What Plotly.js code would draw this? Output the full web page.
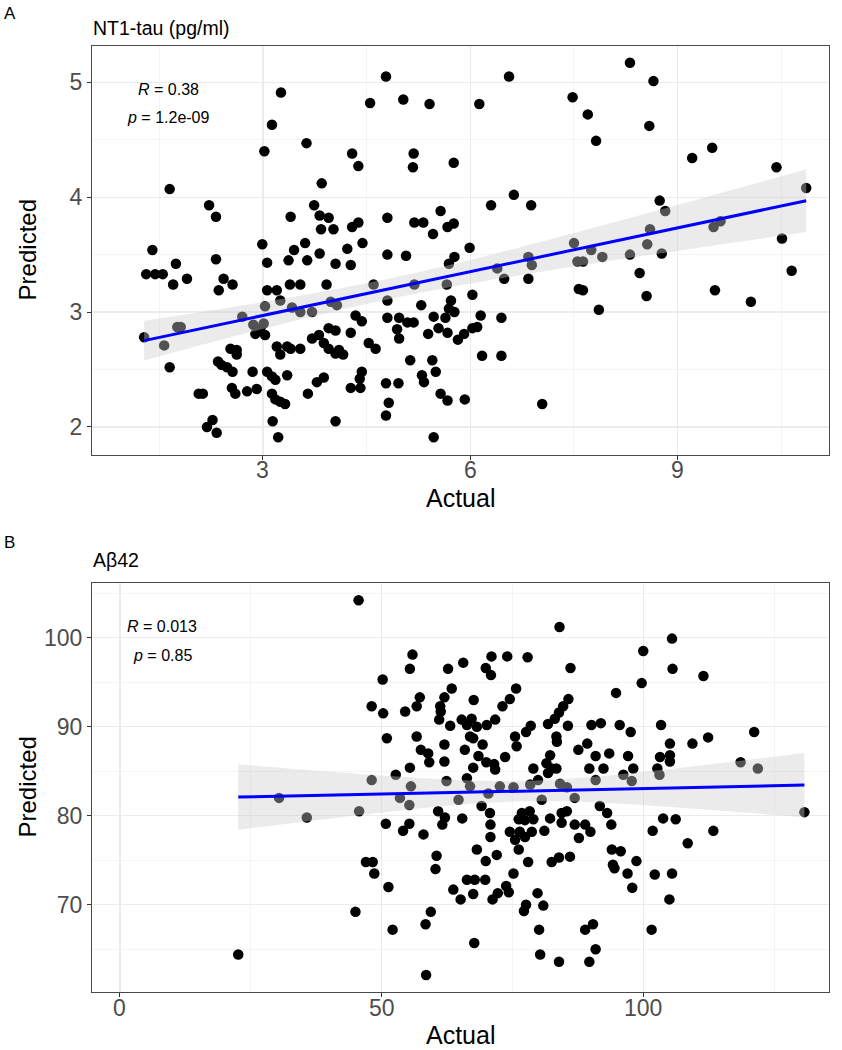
<!DOCTYPE html>
<html><head><meta charset="utf-8">
<script src="https://cdn.plot.ly/plotly-3.0.1.min.js"></script>
<style>html,body{margin:0;padding:0;background:#fff}#chart{width:842px;height:1050px}</style>
</head><body><div id="chart"></div>
<script>
const W = 842, H = 1050;

// Panel A: NT1-tau (pg/ml)
const ntauActual = [3.26,3.13,3.63,3.02,1.65,3.85,2.22,2.32,3.40,3.74,3.82,3.95,3.84,4.02,2.99,3.61,1.40,3.45,
 2.32,3.06,1.74,1.31,1.44,1.55,1.70,1.90,2.43,2.56,2.36,3.37,3.64,3.82,4.05,3.39,3.54,3.92,3.06,3.20,3.25,3.03,3.42,3.54,3.71,3.98,4.07,2.70,2.86,2.96,3.01,1.76,1.81,1.28,1.57,2.89,3.03,1.65,2.53,2.62,2.35,2.40,2.48,2.62,2.56,2.85,3.06,3.13,3.18,3.35,3.20,3.25,3.40,3.54,3.35,3.71,3.81,3.88,3.95,4.05,3.95,4.05,3.78,3.88,3.65,2.55,2.60,2.77,2.91,2.07,2.13,3.13,3.18,3.32,3.25,3.14,3.22,2.27,2.19,2.33,4.05,
 4.78,6.56,7.48,4.55,5.03,5.41,6.13,4.29,4.38,5.18,5.17,5.76,6.30,6.63,6.88,4.80,5.19,5.32,5.57,5.46,5.67,5.76,4.29,4.38,4.44,4.22,5.99,7.50,
 4.27,4.80,5.07,5.69,5.77,4.60,5.19,5.66,6.39,6.49,6.84,6.89,6.84,7.55,7.57,6.03,5.72,5.69,5.77,5.64,5.29,4.80,4.34,4.43,4.27,4.80,4.97,5.09,5.18,4.94,4.97,5.39,5.47,5.54,5.67,5.82,5.91,6.03,6.10,6.15,6.45,6.17,6.45,4.10,4.16,4.53,4.63,5.13,5.45,5.50,4.43,4.40,4.27,4.41,4.78,4.96,5.30,5.33,5.57,5.67,5.92,4.82,4.78,5.47,7.04,
 8.31,8.65,7.70,8.59,7.82,9.21,9.50,10.43,10.86,8.74,8.82,8.60,8.56,9.52,9.62,10.51,
 7.75,7.91,7.63,8.31,8.77,8.45,7.63,8.55,7.86,9.54,10.06,10.65];
const ntauPredicted = [4.91,4.63,4.47,4.40,4.07,4.12,3.93,3.83,3.83,3.93,3.84,3.82,3.72,3.72,3.59,3.60,3.54,3.54,
 3.46,3.43,3.42,3.33,3.33,3.33,3.24,3.29,3.29,3.24,3.19,3.45,3.45,3.51,3.42,3.24,3.24,3.24,3.19,3.19,3.10,3.05,3.04,3.00,3.00,3.09,3.06,2.96,2.89,2.86,2.90,2.87,2.87,2.78,2.71,2.81,2.80,2.52,2.68,2.67,2.57,2.54,2.52,2.63,2.48,2.48,2.48,2.44,2.41,2.45,2.70,2.63,2.68,2.68,2.70,2.77,2.80,2.73,2.86,2.84,2.68,2.64,2.39,2.43,2.29,2.34,2.29,2.31,2.33,2.29,2.29,2.29,2.24,2.20,2.22,2.05,1.91,2.06,2.00,1.95,2.05,
 5.05,5.05,4.87,4.82,4.85,4.81,4.81,4.38,4.27,4.38,4.26,4.30,3.93,4.02,3.93,3.82,3.78,3.78,3.88,3.68,3.74,3.77,3.74,3.78,3.60,3.55,3.56,3.60,
 3.41,3.50,3.49,3.42,3.48,3.24,3.24,3.24,3.38,3.29,3.48,3.41,3.29,3.44,3.20,3.15,3.10,3.03,3.00,2.95,3.06,3.10,2.97,2.92,2.82,2.95,2.95,2.91,2.91,2.85,2.77,2.81,2.96,2.86,2.82,2.76,2.81,2.86,2.87,2.97,2.95,2.62,2.62,2.67,2.63,2.73,2.68,2.58,2.58,2.48,2.48,2.42,2.34,2.34,2.38,2.38,2.45,2.39,2.29,2.23,2.24,2.21,2.10,1.91,2.20,
 5.17,5.01,4.72,4.62,4.49,4.34,4.43,4.26,4.08,3.97,3.88,3.72,3.59,3.74,3.79,3.64,
 3.54,3.48,3.44,3.50,3.51,3.34,3.19,3.14,3.02,3.19,3.09,3.36];

// Panel B: Abeta42
const abActual = [45.6,55.9,55.4,50.2,62.7,65.6,71.0,74.0,69.9,70.9,63.4,62.0,61.2,61.3,61.0,57.3,56.7,48.1,50.3,54.5,67.6,75.7,74.5,73.1,65.3,67.2,68.2,70.1,66.3,71.7,63.1,51.0,56.7,66.9,67.5,62.0,65.9,69.3,75.5,75.8,57.5,58.9,59.1,62.0,68.5,70.0,71.5,71.7,73.6,67.5,55.4,52.7,48.1,55.6,62.4,66.3,66.9,72.6,75.2,70.4,30.4,53.5,64.7,
 35.7,45.7,55.3,50.8,54.1,55.3,58.0,60.8,62.1,61.6,65.4,69.1,70.7,70.8,70.8,74.5,75.5,76.2,76.2,47.0,48.3,48.6,51.3,60.5,60.3,68.2,69.9,72.0,66.3,67.8,69.8,63.7,65.1,67.5,71.2,72.2,73.8,74.3,75.2,45.0,52.1,59.4,58.4,67.7,22.6,58.5,
 84.0,105.5,100.0,105.6,111.5,99.7,77.9,86.1,94.8,85.7,84.7,83.9,83.1,81.8,78.5,77.6,85.6,90.1,91.9,95.5,97.6,103.4,121.2,112.4,109.4,105.1,83.4,83.5,87.6,89.3,82.2,81.5,82.5,83.4,79.0,90.9,93.5,89.7,92.4,97.1,98.1,103.2,102.7,105.1,105.1,118.6,121.9,81.8,79.9,78.4,84.1,85.4,90.9,96.2,97.8,103.1,80.6,86.9,
 91.7,93.1,93.9,130.8,103.8,106.2,101.8,113.4,108.5,76.8,78.3,79.0,77.4,82.2,84.4,85.4,84.4,86.9,88.9,89.9,87.7,76.4,78.7,81.1,77.4,78.0,82.5,83.9,86.0,94.0,95.7,94.2,94.5,98.7,97.0,97.9,102.2,105.5,105.0,79.8,77.6,77.2,80.9,80.1,88.9,90.4,101.6,80.3,83.9,89.7,90.9];
const abPredicted = [104.2,98.1,96.5,95.3,96.5,97.2,97.9,97.9,96.6,95.8,94.3,93.3,92.3,91.7,90.8,93.3,92.3,92.3,91.5,91.7,93.0,94.3,93.1,92.3,90.8,90.9,90.0,90.2,90.2,90.8,90.1,88.7,88.9,88.9,88.7,88.0,87.4,88.0,88.9,87.8,87.4,87.0,86.0,86.1,86.7,86.0,85.8,85.2,86.6,85.4,85.4,84.6,84.0,83.3,83.9,84.2,83.3,83.3,83.2,82.5,82.0,82.0,81.8,
 79.8,80.5,81.2,79.1,78.3,79.1,77.9,80.5,79.8,79.0,79.7,81.1,80.3,79.0,77.6,78.2,77.3,76.2,79.6,74.8,74.8,73.5,72.0,75.5,74.0,76.2,74.9,75.6,72.8,72.8,72.8,71.7,70.6,71.2,70.6,71.3,72.1,71.4,73.5,69.2,67.2,69.2,67.8,65.7,64.4,62.1,
 101.2,99.9,98.5,96.5,95.7,94.9,97.8,96.6,93.8,93.1,92.3,91.6,90.9,90.3,90.1,89.4,90.1,90.2,90.4,90.2,89.4,90.2,89.4,88.8,88.1,88.1,88.9,88.3,87.4,88.1,86.8,85.9,85.3,85.3,85.3,86.7,87.0,85.3,85.3,86.7,85.3,86.6,85.3,86.8,86.1,86.0,85.3,84.8,84.0,83.5,83.6,83.2,84.0,84.6,83.9,84.6,81.8,82.0,
 81.1,80.3,79.0,80.4,79.7,79.6,78.3,78.3,76.9,80.3,80.5,79.6,79.5,79.7,80.3,80.5,79.2,79.0,79.0,78.2,77.5,78.2,78.2,78.3,77.6,74.8,74.8,75.3,75.4,76.2,76.0,74.5,74.1,74.9,73.5,71.9,73.4,73.5,70.6,71.3,70.0,69.3,69.9,67.2,67.2,67.8,67.2,64.4,63.6,63.6,65.0];

const ntauXTicks = [3, 6, 9];
const abXTicks = [0, 50, 100];
const panelTitles = ['NT1-tau (pg/ml)', 'A\u03b242'];
const panelTags = ['A', 'B'];
const statR = ['0.38', '0.013'];
const statP = ['1.2e-09', '0.85'];

const FONT = 'Liberation Sans, Arial, Helvetica, sans-serif';

// Linear fit with 95% confidence band (like geom_smooth(method = "lm"))
function lmBand(xs, ys) {
  const n = xs.length;
  const mx = xs.reduce((a, b) => a + b, 0) / n;
  const my = ys.reduce((a, b) => a + b, 0) / n;
  let sxx = 0, sxy = 0;
  for (let i = 0; i < n; i++) { sxx += (xs[i] - mx) ** 2; sxy += (xs[i] - mx) * (ys[i] - my); }
  const b = sxy / sxx, a = my - b * mx;
  let sse = 0;
  for (let i = 0; i < n; i++) sse += (ys[i] - a - b * xs[i]) ** 2;
  const s = Math.sqrt(sse / (n - 2));
  const t = 1.971;
  const xmin = Math.min(...xs), xmax = Math.max(...xs);
  const gx = [], fit = [], lo = [], hi = [];
  for (let k = 0; k <= 80; k++) {
    const x = xmin + (xmax - xmin) * k / 80;
    const f = a + b * x;
    const se = s * Math.sqrt(1 / n + (x - mx) ** 2 / sxx);
    gx.push(x); fit.push(f); lo.push(f - t * se); hi.push(f + t * se);
  }
  return { gx, fit, lo, hi };
}

function panelTraces(xs, ys, xa, ya) {
  const f = lmBand(xs, ys);
  return [
    { type: 'scatter', mode: 'markers', x: xs, y: ys, xaxis: xa, yaxis: ya,
      marker: { color: '#000000', size: 10.5, line: { width: 0 } }, hoverinfo: 'skip' },
    { type: 'scatter', mode: 'none', x: f.gx.concat(f.gx.slice().reverse()),
      y: f.hi.concat(f.lo.slice().reverse()), xaxis: xa, yaxis: ya,
      fill: 'toself', fillcolor: 'rgba(204,204,204,0.4)', hoverinfo: 'skip' },
    { type: 'scatter', mode: 'lines', x: f.gx, y: f.fit, xaxis: xa, yaxis: ya,
      line: { color: '#0000FF', width: 3 }, hoverinfo: 'skip' }
  ];
}

const data = panelTraces(ntauActual, ntauPredicted, 'x', 'y')
  .concat(panelTraces(abActual, abPredicted, 'x2', 'y2'));

const xDom = [92 / W, 829 / W];
function baseAxis(extra) {
  return Object.assign({
    showgrid: true, gridcolor: '#EBEBEB', gridwidth: 1.2,
    zeroline: false, showline: true, mirror: true, linecolor: '#4a4a4a', linewidth: 1,
    ticks: 'outside', ticklen: 4, tickwidth: 1, tickcolor: '#333333',
    tickfont: { family: FONT, size: 23, color: '#4D4D4D' },
    automargin: false, fixedrange: true
  }, extra);
}
function minor(d) { return { dtick: d, showgrid: true, gridcolor: '#F0F0F0', gridwidth: 0.7, ticks: '' }; }

function P(px, py) { return { x: px / W, y: 1 - py / H }; }
function ann(text, px, py, size, opts) {
  const p = P(px, py);
  return Object.assign({ text: text, x: p.x, y: p.y, xref: 'paper', yref: 'paper', showarrow: false,
    xanchor: 'center', yanchor: 'middle', font: { family: FONT, size: size, color: '#000' } }, opts || {});
}
// x tick labels placed on the axis scale (data x), just under the panel
function tickLabels(vals, xref, py) {
  return vals.map(v => ({ text: String(v), x: v, xref: xref, y: 1 - py / H, yref: 'paper',
    showarrow: false, xanchor: 'center', yanchor: 'middle',
    font: { family: FONT, size: 23, color: '#4D4D4D' } }));
}

const annotations = [
  ann(panelTags[0], 2, 13, 17, { xanchor: 'left' }),
  ann(panelTitles[0], 91, 28, 19.5, { xanchor: 'left' }),
  ann('<i>R</i> = ' + statR[0], 168, 89, 16),
  ann('<i>p</i> = ' + statP[0], 168, 117, 16),
  ann('Actual', 460.5, 498, 25),
  ann('Predicted', 27, 250.4, 24, { textangle: -90 }),
  ann(panelTags[1], 2, 542, 17, { xanchor: 'left' }),
  ann(panelTitles[1], 91, 560, 19.5, { xanchor: 'left' }),
  ann('<i>R</i> = ' + statR[1], 162, 626, 16),
  ann('<i>p</i> = ' + statP[1], 162, 655, 16),
  ann('Actual', 460.5, 1035, 25),
  ann('Predicted', 27, 787.5, 24, { textangle: -90 })
].concat(tickLabels(ntauXTicks, 'x', 470), tickLabels(abXTicks, 'x2', 1008));

const layout = {
  width: W, height: H, margin: { l: 0, r: 0, t: 0, b: 0 },
  paper_bgcolor: '#FFFFFF', plot_bgcolor: '#FFFFFF', showlegend: false,
  font: { family: FONT },
  xaxis: baseAxis({ domain: xDom, anchor: 'y', range: [0.526, 11.19], tickvals: ntauXTicks, showticklabels: false, minor: minor(1.5) }),
  yaxis: baseAxis({ domain: [1 - 455 / H, 1 - 45.7 / H], anchor: 'x', range: [1.756, 5.318], tick0: 0, dtick: 1, minor: minor(0.5) }),
  xaxis2: baseAxis({ domain: xDom, anchor: 'y2', range: [-5.35, 135.5], tickvals: abXTicks, showticklabels: false, minor: minor(25) }),
  yaxis2: baseAxis({ domain: [1 - 992.3 / H, 1 - 582.7 / H], anchor: 'x2', range: [60.16, 106.18], tick0: 0, dtick: 10, minor: minor(5) }),
  annotations: annotations
};

Plotly.newPlot('chart', data, layout, { displayModeBar: false, staticPlot: true });
</script></body></html>
